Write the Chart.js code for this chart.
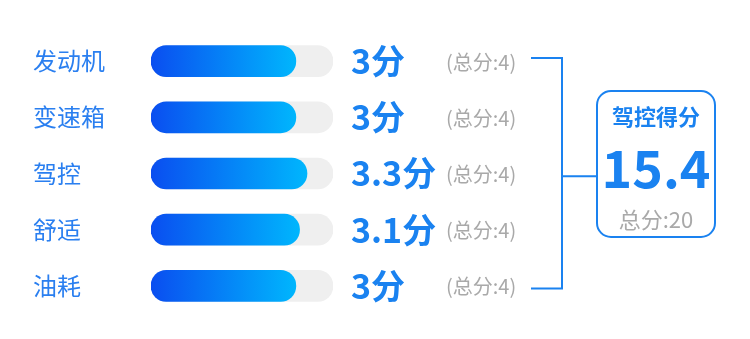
<!DOCTYPE html>
<html>
<head>
<meta charset="utf-8">
<script src="https://cdn.jsdelivr.net/npm/chart.js@4/dist/chart.umd.min.js"></script>
<style>
  html, body { margin: 0; padding: 0; background: #ffffff; }
  #wrap { width: 750px; height: 339px; position: relative; }
</style>
</head>
<body>
<div id="wrap"><canvas id="c" width="750" height="339"></canvas></div>
<script>
const categories = ['发动机', '变速箱', '驾控', '舒适', '油耗'];
const scores = [3, 3, 3.3, 3.1, 3];
const maxScores = [4, 4, 4, 4, 4];
const summaryTitle = '驾控得分';
const unit = '分';
const totalLabel = '总分';

const BASE = -0.9;
const BLUE = '#1a82f0';
const CJK = '"Noto Sans CJK SC", "Noto Sans", sans-serif';

const sumScore = Math.round(scores.reduce((a, b) => a + b, 0) * 10) / 10;
const sumMax = maxScores.reduce((a, b) => a + b, 0);

function gradientFill(ctx) {
  const chart = ctx.chart;
  if (!chart.chartArea) return '#0a60f0';
  const xs = chart.scales.x;
  const x0 = xs.getPixelForValue(BASE);
  const x1 = xs.getPixelForValue(ctx.raw);
  const g = chart.ctx.createLinearGradient(x0, 0, x1, 0);
  g.addColorStop(0, '#0a4ef0');
  g.addColorStop(1, '#00b6fd');
  return g;
}

const decorPlugin = {
  id: 'decor',
  afterDraw(chart) {
    const ctx = chart.ctx;
    const area = chart.chartArea;
    const ys = chart.scales.y;
    ctx.save();
    ctx.textBaseline = 'middle';
    ctx.textAlign = 'left';
    scores.forEach((v, i) => {
      const y = ys.getPixelForValue(i);
      ctx.fillStyle = BLUE;
      ctx.font = 'bold 34px ' + CJK;
      ctx.fillText(v + unit, area.right + 18, y);
      ctx.fillStyle = '#a9a9a9';
      ctx.font = 'normal 20px ' + CJK;
      ctx.fillText('(' + totalLabel + ':' + maxScores[i] + ')', area.right + 113, y + 1);
    });
    const yTop = ys.getPixelForValue(0) - 3;
    const yBot = ys.getPixelForValue(scores.length - 1) + 2.5;
    const yMid = (yTop + yBot) / 2 + 3;
    const xa = area.right + 198, xv = area.right + 229;
    const boxL = area.right + 264, boxR = area.right + 382, boxT = 91, boxB = 237;
    ctx.strokeStyle = BLUE;
    ctx.lineWidth = 2;
    ctx.beginPath();
    ctx.moveTo(xa, yTop); ctx.lineTo(xv, yTop); ctx.lineTo(xv, yBot); ctx.lineTo(xa, yBot);
    ctx.moveTo(xv, yMid); ctx.lineTo(boxL, yMid);
    ctx.stroke();
    ctx.beginPath();
    ctx.roundRect(boxL, boxT, boxR - boxL, boxB - boxT, 14);
    ctx.fillStyle = '#ffffff';
    ctx.fill();
    ctx.stroke();
    const cx = (boxL + boxR) / 2;
    ctx.textAlign = 'center';
    ctx.fillStyle = BLUE;
    ctx.font = 'bold 22px ' + CJK;
    ctx.fillText(summaryTitle, cx, 117);
    ctx.font = 'bold 52px ' + CJK;
    ctx.fillText(String(sumScore), cx, 168);
    ctx.fillStyle = '#a9a9a9';
    ctx.font = 'normal 22px ' + CJK;
    ctx.fillText(totalLabel + ':' + sumMax, cx, 220);
    ctx.restore();
  }
};

new Chart(document.getElementById('c'), {
  type: 'bar',
  data: {
    labels: categories,
    datasets: [
      {
        data: scores,
        base: BASE,
        backgroundColor: gradientFill,
        borderRadius: 16,
        borderSkipped: false,
        barThickness: 31,
        grouped: false
      },
      {
        data: maxScores,
        base: BASE,
        backgroundColor: '#efefef',
        borderRadius: 16,
        borderSkipped: false,
        barThickness: 31,
        grouped: false
      }
    ]
  },
  options: {
    indexAxis: 'y',
    responsive: false,
    animation: false,
    devicePixelRatio: 1,
    layout: { padding: { top: 33, bottom: 25, left: 33, right: 417 } },
    plugins: { legend: { display: false }, tooltip: { enabled: false } },
    scales: {
      x: { display: false, min: BASE, max: 4 },
      y: {
        grid: { display: false },
        border: { display: false },
        afterFit(scale) { scale.width = 118; },
        ticks: {
          crossAlign: 'far',
          color: '#2a7ff0',
          font: { family: CJK, size: 24, weight: 'normal' }
        }
      }
    }
  },
  plugins: [decorPlugin]
});
</script>
</body>
</html>
